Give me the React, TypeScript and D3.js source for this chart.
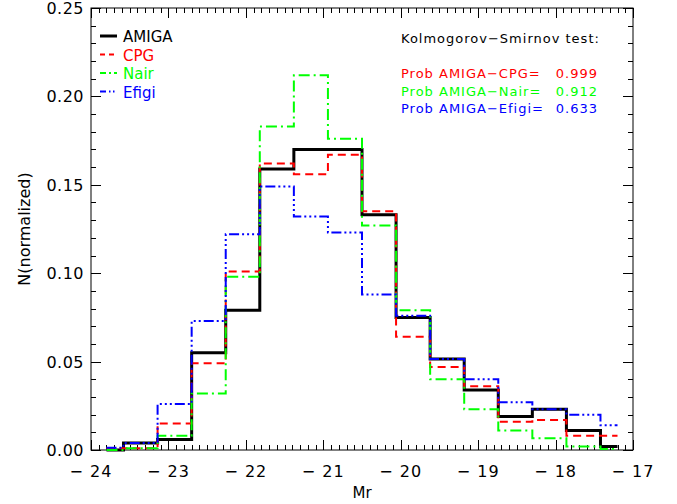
import React, { useEffect, useRef } from "react";
import * as d3 from "d3";

// bin centres (mag) of the histograms, IDL psym=10 style
const binCenters = [
  -23.8, -23.36, -22.92, -22.48, -22.04, -21.6, -21.16, -20.72, -20.28, -19.84,
  -19.4, -18.96, -18.52, -18.08, -17.64, -17.2,
];

const amiga = [0, 0.004, 0.006, 0.055, 0.079, 0.159, 0.17, 0.17, 0.133, 0.075, 0.0515, 0.034, 0.019, 0.023, 0.011, 0.002];
const cpg = [0.001, 0.001, 0.015, 0.049, 0.101, 0.162, 0.156, 0.167, 0.135, 0.064, 0.047, 0.036, 0.016, 0.017, 0.008, 0.008];
const nair = [0, 0.001, 0.008, 0.032, 0.098, 0.183, 0.212, 0.176, 0.127, 0.079, 0.04, 0.023, 0.011, 0.0066, 0.002, 0.0006];
const efigi = [0.0013, 0.004, 0.026, 0.073, 0.122, 0.149, 0.132, 0.123, 0.088, 0.076, 0.0515, 0.04, 0.027, 0.023, 0.02, 0.014];

const seriesNames = ["AMIGA", "CPG", "Nair", "Efigi"];
const seriesColors = ["#000000", "#ff0000", "#00ff00", "#0000ff"];
const seriesDash = ["none", "8,5", "11,4,2,4", "10,3,2,3,2,3,2,3"];
const legendDash = ["none", "5,4", "6,3,2,3", "6,3,1.5,2.5,1.5,3"];
const seriesWidth = [3, 2, 2, 2];

const xTicks = [-24, -23, -22, -21, -20, -19, -18, -17];
const yTicks = [0, 0.05, 0.1, 0.15, 0.2, 0.25];

const ksTitle = "Kolmogorov\u2212Smirnov test:";
const ksLabels = ["Prob AMIGA\u2212CPG=", "Prob AMIGA\u2212Nair=", "Prob AMIGA\u2212Efigi="];
const ksValues = ["0.999", "0.912", "0.633"];

const W = 677;
const H = 504;
const margin = { top: 8, right: 44, bottom: 54, left: 91 };
const FONT = "DejaVu Sans, sans-serif";

function draw(node: SVGSVGElement) {
  const svg = d3.select(node);
  svg.selectAll("*").remove();

  const x = d3.scaleLinear().domain([-24, -17]).range([margin.left, W - margin.right]);
  const y = d3.scaleLinear().domain([0, 0.25]).range([H - margin.bottom, margin.top]);
  const [x0, x1] = x.range();
  const [y0, y1] = y.range();

  // frame
  svg
    .append("rect")
    .attr("x", x0)
    .attr("y", y1)
    .attr("width", x1 - x0)
    .attr("height", y0 - y1)
    .attr("fill", "none")
    .attr("stroke", "#000")
    .attr("stroke-width", 1);

  // ticks (inward, on all four sides)
  const ticks = svg.append("g").attr("stroke", "#000").attr("stroke-width", 1);
  d3.range(-24, -16.99, 0.1).forEach((v, i) => {
    const len = i % 10 === 0 ? 10 : 5;
    const px = Math.round(x(v)) + 0.5;
    ticks.append("line").attr("x1", px).attr("x2", px).attr("y1", y0).attr("y2", y0 - len);
    ticks.append("line").attr("x1", px).attr("x2", px).attr("y1", y1).attr("y2", y1 + len);
  });
  d3.range(0, 0.2501, 0.01).forEach((v, i) => {
    const len = i % 5 === 0 ? 10 : 5;
    const py = Math.round(y(v)) + 0.5;
    ticks.append("line").attr("y1", py).attr("y2", py).attr("x1", x0).attr("x2", x0 + len);
    ticks.append("line").attr("y1", py).attr("y2", py).attr("x1", x1).attr("x2", x1 - len);
  });

  // tick labels
  svg
    .append("g")
    .selectAll("text")
    .data(xTicks)
    .enter()
    .append("text")
    .attr("x", (d) => x(d))
    .attr("y", y0 + 27)
    .attr("text-anchor", "middle")
    .style("font-family", FONT)
    .style("font-size", "16px")
    .style("letter-spacing", "1px")
    .text((d) => String(d).replace("-", "\u2212 "));

  svg
    .append("g")
    .selectAll("text")
    .data(yTicks)
    .enter()
    .append("text")
    .attr("x", x0 - 7)
    .attr("y", (d) => y(d) + 6)
    .attr("text-anchor", "end")
    .style("font-family", FONT)
    .style("font-size", "16px")
    .style("letter-spacing", "0.5px")
    .text((d) => d.toFixed(2));

  // axis titles
  svg
    .append("text")
    .attr("x", (x0 + x1) / 2)
    .attr("y", y0 + 48)
    .attr("text-anchor", "middle")
    .style("font-family", FONT)
    .style("font-size", "15px")
    .text("Mr");

  svg
    .append("text")
    .attr("transform", `translate(30,${(y0 + y1) / 2}) rotate(-90)`)
    .attr("text-anchor", "middle")
    .style("font-family", FONT)
    .style("font-size", "16px")
    .text("N(normalized)");

  // histograms
  const line = d3
    .line<number>()
    .x((_, i) => x(binCenters[i]))
    .y((d) => y(d))
    .curve(d3.curveStep);

  [amiga, cpg, nair, efigi].forEach((vals, k) => {
    svg
      .append("path")
      .attr("d", line(vals))
      .attr("fill", "none")
      .attr("stroke", seriesColors[k])
      .attr("stroke-width", seriesWidth[k])
      .attr("stroke-dasharray", seriesDash[k]);
  });

  // legend
  const legend = svg.append("g");
  seriesNames.forEach((name, k) => {
    const ly = 36 + k * 18.5;
    legend
      .append("line")
      .attr("x1", 100)
      .attr("x2", 117)
      .attr("y1", ly)
      .attr("y2", ly)
      .attr("stroke", seriesColors[k])
      .attr("stroke-width", seriesWidth[k])
      .attr("stroke-dasharray", legendDash[k]);
    legend
      .append("text")
      .attr("x", 123)
      .attr("y", ly + 6)
      .attr("fill", seriesColors[k])
      .style("font-family", FONT)
      .style("font-size", "15px")
      .text(name);
  });

  // KS test annotation
  const ks = svg.append("g").style("font-family", FONT).style("font-size", "13px").style("letter-spacing", "1px");
  ks.append("text").attr("x", 401).attr("y", 43).attr("fill", "#000").text(ksTitle);
  ksLabels.forEach((lab, k) => {
    const ty = 78 + k * 17.5;
    ks.append("text").attr("x", 401).attr("y", ty).attr("fill", seriesColors[k + 1]).text(lab);
    ks.append("text").attr("x", 598).attr("y", ty).attr("text-anchor", "end").attr("fill", seriesColors[k + 1]).text(ksValues[k]);
  });
}

export default function App() {
  const ref = useRef<SVGSVGElement>(null);
  useEffect(() => {
    if (ref.current) draw(ref.current);
  }, []);
  return (
    <div style={{ position: "absolute", left: 0, top: 0, background: "#fff" }}>
      <svg ref={ref} width={W} height={H} style={{ display: "block" }} />
    </div>
  );
}
